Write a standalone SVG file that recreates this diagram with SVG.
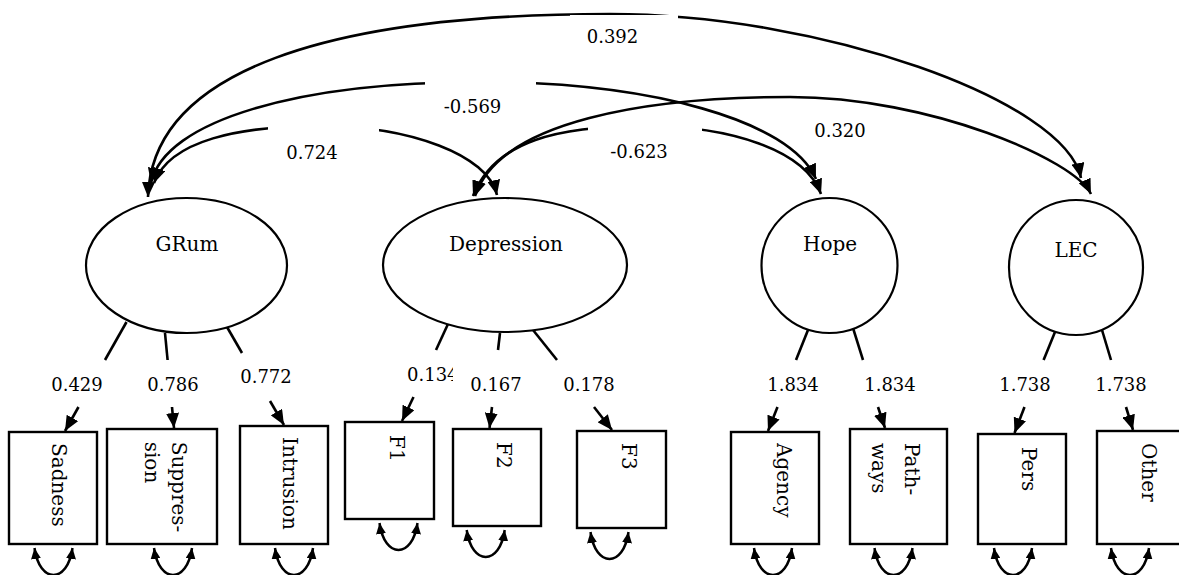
<svg xmlns="http://www.w3.org/2000/svg" width="1179" height="575" viewBox="0 0 1179 575">
  <defs>
    <style>
      .lat { fill: #fff; stroke: #000; stroke-width: 2.2; }
      .box { fill: #fff; stroke: #000; stroke-width: 2.4; }
      .cov { fill: none; stroke: #000; stroke-width: 2.6; marker-start: url(#ah); marker-end: url(#ah); }
      .load { fill: none; stroke: #000; stroke-width: 2.6; }
      .loadArrow { fill: none; stroke: #000; stroke-width: 2.6; marker-end: url(#ah); }
      .res { fill: none; stroke: #000; stroke-width: 2.5; marker-start: url(#sh); marker-end: url(#sh); }
      .mask { fill: #fff; stroke: none; }
      .name { font-family: "DejaVu Serif", serif; font-size: 20px; fill: #000; }
      .num { font-family: "DejaVu Serif", serif; font-size: 18px; fill: #000; }
      .mid { text-anchor: middle; }
    </style>
    <marker id="ah" viewBox="0 0 15 13" refX="15" refY="6.5" markerWidth="15" markerHeight="13" markerUnits="userSpaceOnUse" orient="auto-start-reverse">
      <path d="M0,0 L15,6.5 L0,13 z" fill="#000"/>
    </marker>
    <marker id="sh" viewBox="0 0 11 10" refX="11" refY="5" markerWidth="11" markerHeight="10" markerUnits="userSpaceOnUse" orient="auto-start-reverse">
      <path d="M0,0 L11,5 L0,10 z" fill="#000"/>
    </marker>
    <clipPath id="clipF1num">
      <rect x="400" y="360" width="53" height="30"/>
    </clipPath>
  </defs>

  <!-- covariance arcs between latent factors -->
  <g id="connectors">
    <path class="cov" d="M148,197 C152,70 330,14 610,14 C820,14 1065,100 1081,178"/>
    <path class="cov" d="M151,183 C165,120 300,82 480,82 C650,82 790,120 816,179"/>
    <path class="cov" d="M154,183 C170,140 240,126 320,126 C410,126 488,155 497,195"/>
    <path class="cov" d="M475,196 C500,120 650,97 790,97 C930,97 1075,160 1091,194"/>
    <path class="cov" d="M473,196 C495,140 560,126 645,126 C730,126 805,150 821,194"/>

    <!-- factor loadings: stub from the factor, arrow into the indicator -->
    <line class="load" x1="126.5" y1="322" x2="105" y2="360"/>
    <line class="loadArrow" x1="78.5" y1="407" x2="65" y2="431"/>
    <line class="load" x1="165" y1="333" x2="167.6" y2="360"/>
    <line class="loadArrow" x1="172" y1="407" x2="174" y2="428"/>
    <line class="load" x1="227" y1="327" x2="242" y2="353"/>
    <line class="loadArrow" x1="270" y1="401" x2="284" y2="425"/>
    <line class="load" x1="448" y1="324" x2="436" y2="350"/>
    <line class="loadArrow" x1="413.5" y1="397" x2="402" y2="421"/>
    <line class="load" x1="500" y1="333" x2="498" y2="350"/>
    <line class="loadArrow" x1="492" y1="407" x2="489.5" y2="428"/>
    <line class="load" x1="533" y1="330" x2="557" y2="360"/>
    <line class="loadArrow" x1="594" y1="407" x2="612" y2="430"/>
    <line class="load" x1="808" y1="330" x2="796" y2="360"/>
    <line class="loadArrow" x1="777.5" y1="407" x2="768" y2="431"/>
    <line class="load" x1="853" y1="328" x2="863" y2="360"/>
    <line class="loadArrow" x1="878" y1="407" x2="885" y2="428"/>
    <line class="load" x1="1055" y1="332" x2="1043.6" y2="360"/>
    <line class="loadArrow" x1="1024.5" y1="407" x2="1014.5" y2="433"/>
    <line class="load" x1="1102" y1="330" x2="1111" y2="360"/>
    <line class="loadArrow" x1="1126" y1="407" x2="1133" y2="430"/>

    <!-- residual variances under each indicator -->
    <path class="res" d="M34.5,548 C39.5,584 67.5,584 72.5,548"/>
    <path class="res" d="M154,548 C159,584 187,584 192,548"/>
    <path class="res" d="M275,548 C280,584 308,584 313,548"/>
    <path class="res" d="M379.5,523 C384.5,559 412.5,559 417.5,523"/>
    <path class="res" d="M466.7,530 C471.7,566 499.7,566 504.7,530"/>
    <path class="res" d="M590.5,532 C595.5,568 623.5,568 628.5,532"/>
    <path class="res" d="M754,548 C759,584 787,584 792,548"/>
    <path class="res" d="M874.5,548 C879.5,584 907.5,584 912.5,548"/>
    <path class="res" d="M994,548 C999,584 1027,584 1032,548"/>
    <path class="res" d="M1111,548 C1116,584 1144,584 1149,548"/>
  </g>

  <!-- covariance labels (their boxes break the arcs) -->
  <g id="cov-labels">
    <rect class="mask" x="570" y="15" width="108" height="34"/>
    <text class="num mid" x="612.5" y="43">0.392</text>
    <rect class="mask" x="425" y="80" width="111" height="38"/>
    <text class="num mid" x="472.5" y="113">-0.569</text>
    <rect class="mask" x="268" y="124" width="111" height="40"/>
    <text class="num mid" x="312" y="159">0.724</text>
    <rect class="mask" x="588" y="124" width="114" height="40"/>
    <text class="num mid" x="639" y="158">-0.623</text>
    <rect class="mask" x="794" y="118" width="90" height="32"/>
    <text class="num mid" x="840" y="137">0.320</text>
  </g>

  <!-- loading labels -->
  <g id="load-labels">
    <text class="num mid" x="77" y="391">0.429</text>
    <text class="num mid" x="173" y="391">0.786</text>
    <text class="num mid" x="266" y="383">0.772</text>
    <text class="num" x="407" y="381" clip-path="url(#clipF1num)">0.134</text>
    <text class="num mid" x="496" y="391">0.167</text>
    <text class="num mid" x="589" y="391">0.178</text>
    <text class="num mid" x="793" y="391">1.834</text>
    <text class="num mid" x="890" y="391">1.834</text>
    <text class="num mid" x="1025" y="391">1.738</text>
    <text class="num mid" x="1121" y="391">1.738</text>
  </g>

  <!-- latent factors -->
  <g id="GRum">
    <ellipse class="lat" cx="186.5" cy="265.5" rx="100.5" ry="67.5"/>
    <text class="name mid" x="187" y="251">GRum</text>
  </g>
  <g id="Depression">
    <ellipse class="lat" cx="505" cy="265" rx="122" ry="67"/>
    <text class="name mid" x="506" y="251">Depression</text>
  </g>
  <g id="Hope">
    <ellipse class="lat" cx="829.5" cy="265.5" rx="68" ry="67.5"/>
    <text class="name mid" x="830" y="251">Hope</text>
  </g>
  <g id="LEC">
    <ellipse class="lat" cx="1076" cy="267.5" rx="67" ry="67.5"/>
    <text class="name mid" x="1076" y="257">LEC</text>
  </g>

  <!-- observed indicators -->
  <g id="Sadness">
    <rect class="box" x="9" y="432" width="88" height="112"/>
    <text class="name" transform="translate(51.7,443) rotate(90)">Sadness</text>
  </g>
  <g id="Suppression">
    <rect class="box" x="107" y="429" width="110" height="115"/>
    <text class="name" transform="translate(172,441.7) rotate(90)">Suppres-</text>
    <text class="name" transform="translate(145,441.7) rotate(90)">sion</text>
  </g>
  <g id="Intrusion">
    <rect class="box" x="240" y="426" width="88" height="118"/>
    <text class="name" transform="translate(283,437) rotate(90)">Intrusion</text>
  </g>
  <g id="F1">
    <rect class="box" x="345" y="422" width="89" height="97"/>
    <text class="name" transform="translate(390,435) rotate(90)">F1</text>
  </g>
  <g id="F2">
    <rect class="box" x="453" y="429" width="88" height="97"/>
    <text class="name" transform="translate(497,442) rotate(90)">F2</text>
  </g>
  <g id="F3">
    <rect class="box" x="577" y="431" width="89" height="97"/>
    <text class="name" transform="translate(622,443) rotate(90)">F3</text>
  </g>
  <g id="Agency">
    <rect class="box" x="731" y="432" width="88" height="112"/>
    <text class="name" transform="translate(777,443) rotate(90)">Agency</text>
  </g>
  <g id="Pathways">
    <rect class="box" x="850" y="429" width="97" height="115"/>
    <text class="name" transform="translate(904.5,443) rotate(90)">Path-</text>
    <text class="name" transform="translate(872,443) rotate(90)">ways</text>
  </g>
  <g id="Pers">
    <rect class="box" x="978" y="434" width="88" height="110"/>
    <text class="name" transform="translate(1022,447) rotate(90)">Pers</text>
  </g>
  <g id="Other">
    <rect class="box" x="1097" y="431" width="90" height="113"/>
    <text class="name" transform="translate(1142,443) rotate(90)">Other</text>
  </g>
</svg>
